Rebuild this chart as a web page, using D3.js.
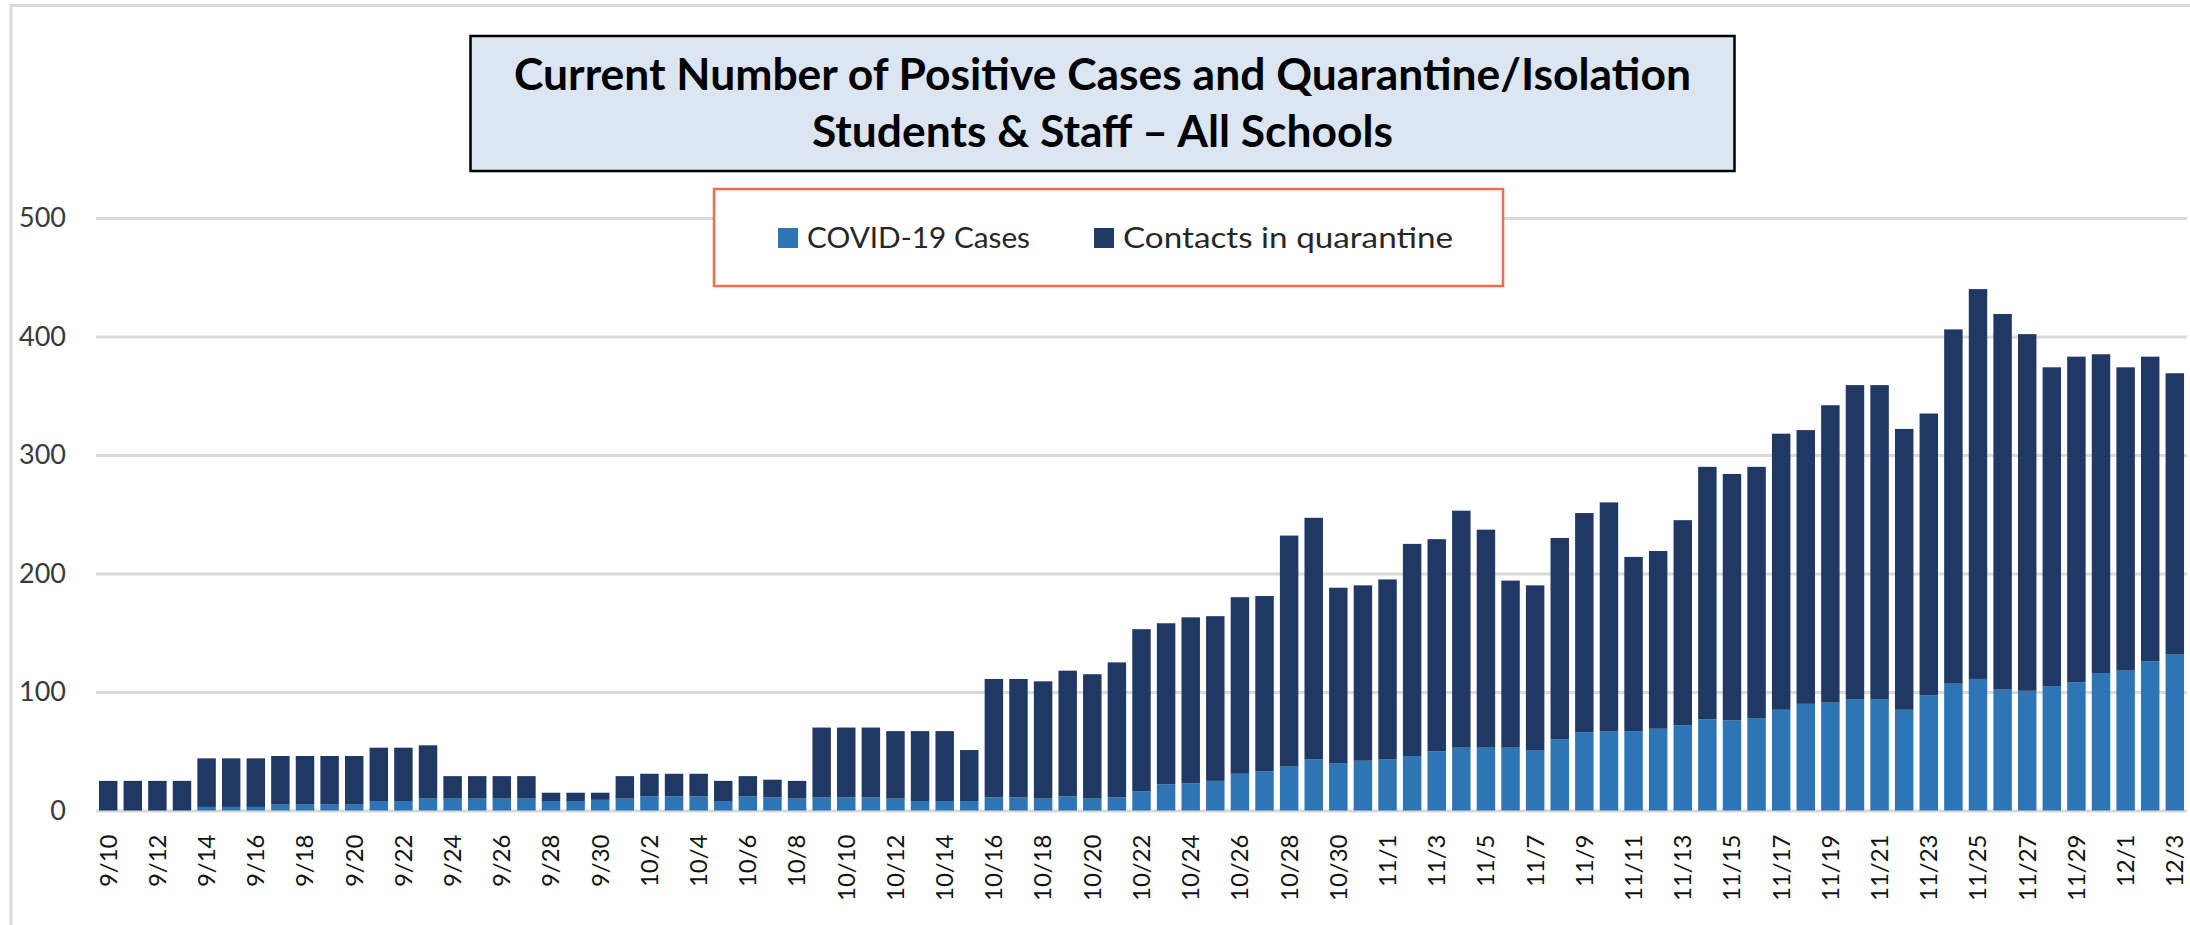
<!DOCTYPE html>
<html>
<head>
<meta charset="utf-8">
<script src="https://cdnjs.cloudflare.com/ajax/libs/d3/7.8.5/d3.min.js"></script>
<style>
  body { margin: 0; background: #fff; }
  svg text { font-family: Lato, "Open Sans", sans-serif; }
</style>
</head>
<body>
<div id="chart"></div>
<script>
// Daily counts, 9/10 to 12/3
const dates = [
  "9/10","9/11","9/12","9/13","9/14","9/15","9/16","9/17","9/18","9/19","9/20",
  "9/21","9/22","9/23","9/24","9/25","9/26","9/27","9/28","9/29","9/30",
  "10/1","10/2","10/3","10/4","10/5","10/6","10/7","10/8","10/9","10/10",
  "10/11","10/12","10/13","10/14","10/15","10/16","10/17","10/18","10/19","10/20",
  "10/21","10/22","10/23","10/24","10/25","10/26","10/27","10/28","10/29","10/30","10/31",
  "11/1","11/2","11/3","11/4","11/5","11/6","11/7","11/8","11/9","11/10",
  "11/11","11/12","11/13","11/14","11/15","11/16","11/17","11/18","11/19","11/20",
  "11/21","11/22","11/23","11/24","11/25","11/26","11/27","11/28","11/29","11/30",
  "12/1","12/2","12/3"
];

const covidCases = [
  0, 0, 0, 0, 3, 3, 3, 5, 5, 5, 5,
  8, 8, 10, 10, 10, 10, 10, 8, 8, 9,
  10, 12, 12, 12, 8, 12, 11, 10, 11, 11,
  11, 10, 8, 8, 8, 11, 11, 10, 12, 10,
  11, 16, 22, 23, 25, 31, 33, 37, 43, 40, 42,
  43, 46, 50, 53, 53, 53, 51, 60, 66, 67,
  67, 69, 72, 77, 76, 78, 85, 90, 91, 94,
  94, 85, 97, 107, 111, 102, 101, 105, 108, 116,
  118, 126, 132
];

const contacts = [
  25, 25, 25, 25, 41, 41, 41, 41, 41, 41, 41,
  45, 45, 45, 19, 19, 19, 19, 7, 7, 6,
  19, 19, 19, 19, 17, 17, 15, 15, 59, 59,
  59, 57, 59, 59, 43, 100, 100, 99, 106, 105,
  114, 137, 136, 140, 139, 149, 148, 195, 204, 148, 148,
  152, 179, 179, 200, 184, 141, 139, 170, 185, 193,
  147, 150, 173, 213, 208, 212, 233, 231, 251, 265,
  265, 237, 238, 299, 329, 317, 301, 269, 275, 269,
  256, 257, 237
];

const yTicks = [0, 100, 200, 300, 400, 500];
const seriesKeys = ["cases", "contacts"];
const seriesNames = ["COVID-19 Cases", "Contacts in quarantine"];
const seriesColors = ["#2e75b6", "#203864"];
const titleLines = ["Current Number of Positive Cases and Quarantine/Isolation", "Students & Staff \u2013 All Schools"];

// Layout
const W = 2190, H = 925;
const margin = { top: 218, right: 3, bottom: 114.5, left: 96 };
const width = W - margin.left - margin.right;
const height = H - margin.top - margin.bottom;

const svg = d3.select("#chart")
  .append("svg")
  .attr("width", W)
  .attr("height", H);

// outer frame (top and left edges visible)
svg.append("line").attr("x1", 10).attr("x2", W).attr("y1", 5.5).attr("y2", 5.5)
  .attr("stroke", "#d9d9d9").attr("stroke-width", 3);
svg.append("line").attr("x1", 11).attr("x2", 11).attr("y1", 4).attr("y2", H)
  .attr("stroke", "#d9d9d9").attr("stroke-width", 3);

const g = svg.append("g")
  .attr("transform", `translate(${margin.left}, ${margin.top})`);

const rows = dates.map((d, i) => ({ date: d, cases: covidCases[i], contacts: contacts[i] }));
const stacked = d3.stack().keys(seriesKeys)(rows);

const x = d3.scaleBand()
  .domain(dates)
  .range([0, width])
  .paddingInner(0.25)
  .paddingOuter(0.12);

const y = d3.scaleLinear()
  .domain([0, 500])
  .range([height, 0]);

// gridlines + y labels
const yAxis = g.append("g")
  .call(d3.axisLeft(y).tickValues(yTicks).tickSize(-width).tickPadding(30));
yAxis.select(".domain").remove();
yAxis.selectAll(".tick line").attr("stroke", "#d9d9d9").attr("stroke-width", 3);
yAxis.selectAll(".tick text")
  .attr("fill", "#3a3a3a")
  .style("font-size", "27px");

// stacked bars
g.selectAll(".series")
  .data(stacked)
  .join("g")
  .attr("class", "series")
  .attr("fill", (d, i) => seriesColors[i])
  .selectAll("rect")
  .data(d => d)
  .join("rect")
  .attr("x", d => x(d.data.date))
  .attr("y", d => y(d[1]))
  .attr("width", x.bandwidth())
  .attr("height", d => y(d[0]) - y(d[1]));

// x labels, every other day
const xAxis = g.append("g")
  .attr("transform", `translate(0, ${height})`)
  .call(d3.axisBottom(x).tickValues(dates.filter((d, i) => i % 2 === 0)).tickSize(0));
xAxis.select(".domain").remove();
xAxis.selectAll(".tick text")
  .attr("transform", "translate(0, 24) rotate(-90)")
  .attr("x", 0)
  .attr("y", 0)
  .attr("dy", "0.35em")
  .attr("text-anchor", "end")
  .attr("fill", "#111")
  .style("font-size", "24px");

// title box
svg.append("rect")
  .attr("x", 470.5).attr("y", 36)
  .attr("width", 1264).attr("height", 135)
  .attr("fill", "#dce6f2")
  .attr("stroke", "#000")
  .attr("stroke-width", 2.5);

svg.selectAll(".title")
  .data(titleLines)
  .join("text")
  .attr("class", "title")
  .attr("x", 1102.5)
  .attr("y", (d, i) => 90 + i * 57)
  .attr("text-anchor", "middle")
  .attr("textLength", (d, i) => i === 0 ? 1177 : 581)
  .attr("lengthAdjust", "spacingAndGlyphs")
  .style("font-size", "43px")
  .style("font-weight", "bold")
  .attr("fill", "#000")
  .text(d => d);

// legend
svg.append("rect")
  .attr("x", 714).attr("y", 189)
  .attr("width", 789).attr("height", 97)
  .attr("fill", "#fff")
  .attr("stroke", "#f26b50")
  .attr("stroke-width", 2.5);

const legendX = [778, 1094];
const legendLen = [223, 330];
const legend = svg.selectAll(".legend")
  .data(seriesNames)
  .join("g")
  .attr("class", "legend")
  .attr("transform", (d, i) => `translate(${legendX[i]}, 228)`);

legend.append("rect")
  .attr("width", 20).attr("height", 20)
  .attr("fill", (d, i) => seriesColors[i]);

legend.append("text")
  .attr("x", 29)
  .attr("y", 20)
  .attr("textLength", (d, i) => legendLen[i])
  .attr("lengthAdjust", "spacingAndGlyphs")
  .attr("fill", "#262626")
  .style("font-size", "29px")
  .text(d => d);
</script>
</body>
</html>
